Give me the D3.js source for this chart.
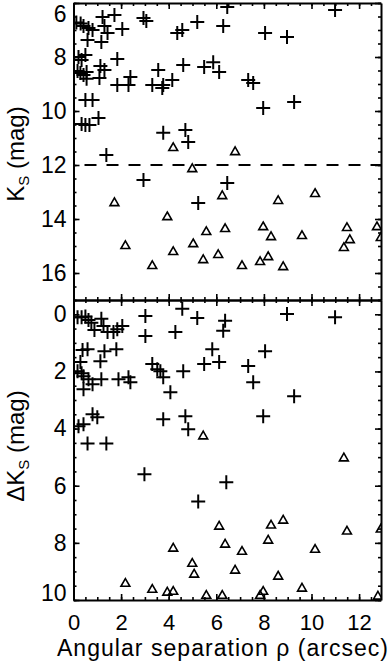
<!DOCTYPE html>
<html>
<head>
<meta charset="utf-8">
<script src="https://cdn.jsdelivr.net/npm/d3@7"></script>
<style>
  body { margin: 0; background: white; }
  svg { display: block; }
  text { font-family: "Liberation Sans", Arial, sans-serif; fill: black; }
</style>
</head>
<body>
<div id="chart"></div>
<script>
// separation (arcsec) and magnitudes
const topPlusSep = [0.12, 0.30, 0.42, 0.63, 0.80, 1.22, 1.72, 1.30, 1.43, 2.05, 0.59, 1.17, 2.94, 3.06,
    0.21, 0.34, 0.50, 1.84, 0.17, 0.29, 0.42, 0.55, 0.55, 1.13, 1.30, 1.09, 2.39, 1.84, 2.31, 3.31,
    3.56, 3.73, 3.77, 4.15, 4.61, 4.36, 4.57, 5.20, 0.50, 0.80, 0.34, 0.50, 0.67, 1.05, 3.77, 4.70,
    4.82, 1.38, 2.94, 5.24, 6.46, 10.99, 6.29, 8.05, 8.97, 5.49, 5.87, 6.12, 7.34, 7.55, 7.97, 9.27, 6.46];
const topPlusK = [6.72, 6.76, 6.85, 6.93, 7.00, 6.52, 6.44, 6.85, 7.11, 6.96, 7.37, 7.44, 6.56, 6.67,
    8.00, 8.11, 7.93, 8.07, 8.52, 8.59, 8.67, 8.56, 8.81, 8.33, 8.48, 8.78, 8.74, 9.04, 9.04, 9.04,
    8.48, 9.15, 9.04, 8.85, 8.30, 7.11, 7.00, 6.70, 9.59, 9.59, 10.48, 10.52, 10.52, 10.26, 10.81, 10.70,
    11.15, 11.63, 12.56, 13.41, 6.15, 6.26, 6.85, 7.11, 7.26, 8.37, 8.19, 8.56, 8.85, 8.96, 9.89, 9.67, 12.67];

const topTriSep = [4.19, 6.79, 4.99, 1.72, 6.25, 8.60, 10.15, 3.94, 2.18, 3.31, 4.19, 5.03, 5.58, 6.37,
    7.97, 8.30, 9.60, 11.49, 11.61, 11.36, 12.75, 12.91, 5.45, 6.08, 7.08, 7.84, 8.18, 8.81];
const topTriK = [11.37, 11.52, 12.15, 13.41, 13.15, 13.33, 13.07, 13.93, 15.00, 15.74, 15.22, 14.93, 14.48, 14.37,
    14.30, 14.67, 14.63, 14.33, 14.78, 15.07, 14.30, 14.70, 15.52, 15.33, 15.74, 15.59, 15.41, 15.78];

const botPlusSep = [0.17, 0.34, 0.50, 0.63, 0.75, 0.88, 1.17, 1.26, 1.43, 1.68, 1.84, 2.05, 3.02, 3.02,
    4.28, 4.57, 5.20, 6.37, 6.29, 8.97, 10.99, 0.38, 0.59, 1.13, 1.30, 1.80, 0.29, 0.17, 0.34, 0.42,
    0.63, 0.80, 1.17, 0.42, 1.89, 2.31, 2.39, 3.31, 3.52, 3.65, 3.77, 4.07, 4.61, 5.83, 5.49, 6.12,
    7.34, 8.05, 7.55, 9.27, 0.21, 0.42, 0.80, 1.00, 3.77, 4.70, 4.82, 7.97, 0.59, 1.38, 2.98, 5.24, 6.42];
const botPlusDK = [0.10, 0.10, 0.08, 0.20, 0.30, 0.55, 0.16, 0.41, 0.62, 0.62, 0.52, 0.41, 0.06, 0.76,
    0.62, -0.19, 0.13, 0.23, 0.58, -0.01, 0.10, 1.25, 1.22, 1.64, 1.29, 1.22, 1.67, 1.99, 2.06, 2.17,
    2.27, 2.45, 2.27, 2.62, 2.27, 2.20, 2.38, 1.74, 1.92, 1.99, 2.20, 2.73, 1.99, 1.22, 1.74, 1.67,
    1.81, 1.29, 2.38, 2.87, 3.92, 3.85, 3.50, 3.60, 3.67, 3.57, 4.02, 3.57, 4.52, 4.52, 5.60, 6.55, 5.88];

const botTriSep = [5.45, 4.19, 4.99, 5.07, 2.18, 3.31, 3.94, 4.19, 11.36, 6.12, 8.30, 8.81, 11.49, 12.91,
    6.37, 7.08, 8.18, 10.15, 6.79, 8.60, 9.60, 5.58, 6.25, 7.84, 7.97, 12.79];
const botTriDK = [4.27, 8.20, 8.73, 9.11, 9.43, 9.64, 9.74, 9.71, 5.04, 7.43, 7.39, 7.22, 7.60, 7.53,
    8.06, 8.31, 7.92, 8.24, 8.97, 9.18, 9.60, 9.85, 9.85, 9.85, 9.71, 9.88];

const xTicks = [0, 2, 4, 6, 8, 10, 12];
const kTicks = [6, 8, 10, 12, 14, 16];
const dkTicks = [0, 2, 4, 6, 8, 10];
const kLimit = 12;

const width = 390, height = 666;
const left = 73.5, right = 381;

const svg = d3.select("#chart").append("svg")
    .attr("width", width)
    .attr("height", height);

const x = d3.scaleLinear().domain([0, 12.92]).range([left, right]);
const yTop = d3.scaleLinear().domain([6, 17]).range([3, 300]);
const yBot = d3.scaleLinear().domain([-0.5, 10]).range([300, 600]);

function minorOf(scale, step) {
    const d = scale.domain();
    const lo = Math.min(d[0], d[1]), hi = Math.max(d[0], d[1]);
    const out = [];
    for (let v = Math.ceil(lo / step) * step; v <= hi + 1e-9; v += step) out.push(+v.toFixed(3));
    return out;
}

function drawPanel(id, y, yTicks, showX) {
    const y0 = y.range()[0], y1 = y.range()[1];
    const g = svg.append("g");

    g.append("clipPath").attr("id", id)
        .append("rect")
        .attr("x", left).attr("y", y0)
        .attr("width", right - left).attr("height", y1 - y0);

    // [axis, dx, dy, major ticks, minor ticks, labels?, padding]
    const axes = [
        [d3.axisLeft(y), left, 0, yTicks, minorOf(y, 0.5), true, 7],
        [d3.axisRight(y), right, 0, yTicks, minorOf(y, 0.5), false, 7],
        [d3.axisTop(x), 0, y0, xTicks, minorOf(x, 0.5), false, 7],
        [d3.axisBottom(x), 0, y1, xTicks, minorOf(x, 0.5), showX, 14.5]
    ];
    axes.forEach(a => {
        const [ax, tx, ty, major, minor, labels, pad] = a;
        g.append("g")
            .attr("transform", `translate(${tx},${ty})`)
            .call(ax.tickValues(minor).tickSizeInner(-3).tickSizeOuter(0).tickFormat(""))
            .call(s => s.select(".domain").remove());
        const m = g.append("g")
            .attr("transform", `translate(${tx},${ty})`)
            .call(ax.tickValues(major).tickSizeInner(-6).tickSizeOuter(0)
                .tickPadding(pad)
                .tickFormat(labels ? d3.format("d") : ""));
        m.select(".domain").attr("stroke-width", 2);
        if (labels) m.classed(ax === axes[0][0] ? "ylab" : "xlab", true);
    });
    g.selectAll(".tick line").attr("stroke-width", 1.6);
    g.selectAll(".ylab .tick text").attr("font-size", 23);
    g.selectAll(".xlab .tick text").attr("font-size", 22);
    g.selectAll(".tick text").attr("fill", "black")
        .attr("font-family", "'Liberation Sans', Arial, sans-serif");

    // edge labels kept inside the frame, as in the original
    g.selectAll(".ylab .tick text")
        .filter(d => d === y.domain()[0] && y === yTop)
        .attr("dy", "0.8em");
    g.selectAll(".ylab .tick text")
        .filter(d => d === y.domain()[1] && y === yBot)
        .attr("dy", "0em");

    return g.append("g").attr("clip-path", `url(#${id})`);
}

const topPlot = drawPanel("clipTop", yTop, kTicks, false);
const botPlot = drawPanel("clipBot", yBot, dkTicks, true);

// dashed K = 12 limit
topPlot.append("line")
    .attr("x1", left).attr("x2", right)
    .attr("y1", yTop(kLimit)).attr("y2", yTop(kLimit))
    .attr("stroke", "black")
    .attr("stroke-width", 2)
    .attr("stroke-dasharray", "12,10")
    .attr("stroke-dashoffset", -11);

const plusPath = "M-7,0H7M0,-7V7";
const triPath = d3.symbol().type(d3.symbolTriangle).size(34)();

function addPlus(g, xs, ys, y) {
    g.selectAll(null).data(xs).enter()
        .append("path")
        .attr("d", plusPath)
        .attr("transform", (d, i) => `translate(${x(d)},${y(ys[i])})`)
        .attr("stroke", "black")
        .attr("stroke-width", 2)
        .attr("fill", "none");
}
function addTri(g, xs, ys, y) {
    g.selectAll(null).data(xs).enter()
        .append("path")
        .attr("d", triPath)
        .attr("transform", (d, i) => `translate(${x(d)},${y(ys[i])})`)
        .attr("stroke", "black")
        .attr("stroke-width", 1.6)
        .attr("fill", "none");
}

addPlus(topPlot, topPlusSep, topPlusK, yTop);
addTri(topPlot, topTriSep, topTriK, yTop);
addPlus(botPlot, botPlusSep, botPlusDK, yBot);
addTri(botPlot, botTriSep, botTriDK, yBot);

// axis titles
svg.append("text")
    .attr("x", 222.5)
    .attr("y", 656)
    .attr("text-anchor", "middle")
    .attr("font-size", 23)
    .attr("textLength", 331)
    .attr("lengthAdjust", "spacing")
    .text("Angular separation ρ (arcsec)");

function yTitle(prefix, cy) {
    const t = svg.append("text")
        .attr("transform", `translate(24,${cy}) rotate(-90)`)
        .attr("text-anchor", "middle")
        .attr("font-size", 24);
    t.append("tspan").text(prefix + "K");
    t.append("tspan").attr("font-size", 15).attr("dy", 5).text("S");
    t.append("tspan").attr("dy", -5).text(" (mag)");
}
yTitle("", 154);
yTitle("Δ", 446);
</script>
</body>
</html>
